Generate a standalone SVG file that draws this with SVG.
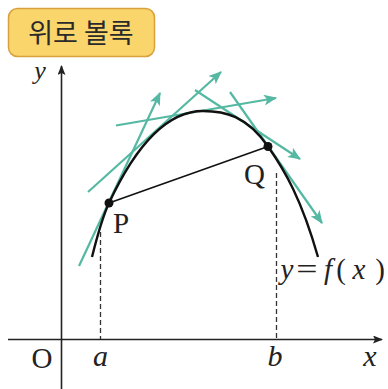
<svg xmlns="http://www.w3.org/2000/svg" width="388" height="389" viewBox="0 0 388 389">
<style>
.axis{stroke:#222;stroke-width:1.6;fill:none}
.dash{stroke:#333;stroke-width:1.3;stroke-dasharray:5,3;fill:none}
.tan{stroke:#55b8a3;stroke-width:2.2;fill:none;marker-end:url(#ta)}
.curve{stroke:#111;stroke-width:2.4;fill:none}
.chord{stroke:#111;stroke-width:1.6;fill:none}
.lbl{font-family:"Liberation Serif","Times New Roman",serif;fill:#222}
.it{font-style:italic}
</style>
<defs>
<marker id="ta" viewBox="0 0 12 10" markerUnits="userSpaceOnUse" markerWidth="14" markerHeight="11" refX="11" refY="5" orient="auto">
<path d="M0,0 L12,5 L0,10 L3,5 z" fill="#55b8a3"/>
</marker>
<marker id="ax" viewBox="0 0 10 8" markerUnits="userSpaceOnUse" markerWidth="10" markerHeight="8" refX="9" refY="4" orient="auto">
<path d="M0,0 L10,4 L0,8 L2,4 z" fill="#222"/>
</marker>
</defs>
<g id="title">
<rect x="8.5" y="8.5" width="146" height="48" rx="9" fill="#f9d56c" stroke="#d9a13c" stroke-width="1.5"/>
<text x="81" y="43" text-anchor="middle" font-family="'Noto Sans CJK KR','Noto Sans',sans-serif" font-size="27" fill="#2a2a2a">위로 볼록</text>
</g>
<g id="axes">
<line class="axis" x1="61.5" y1="389" x2="61.5" y2="66" marker-end="url(#ax)"/>
<line class="axis" x1="8" y1="339.5" x2="382" y2="339.5" marker-end="url(#ax)"/>
<line class="dash" x1="100.5" y1="232" x2="100.5" y2="339"/>
<line class="dash" x1="276.5" y1="173" x2="276.5" y2="339"/>
</g>
<g id="connectors">
<line class="tan" x1="79" y1="266" x2="160" y2="93"/>
<line class="tan" x1="88" y1="192" x2="221" y2="72"/>
<line class="tan" x1="116" y1="125.5" x2="276" y2="98"/>
<line class="tan" x1="195" y1="90" x2="300" y2="159"/>
<line class="tan" x1="230" y1="92" x2="322" y2="223"/>
</g>
<g id="graph">
<path class="curve" d="M92,257 C97.67,234.33 103.33,215.13 109,203 C140.33,135.95 171.67,111 203,111 C224.67,111 246.33,115.73 268,146.5 C284.67,170.17 301.33,198.67 318,257"/>
<line class="chord" x1="109" y1="203" x2="268" y2="146.5"/>
</g>
<g id="P"><circle cx="109" cy="203" r="4.5" fill="#111"/><text class="lbl" x="113" y="233" font-size="29">P</text></g>
<g id="Q"><circle cx="268" cy="146.5" r="4.5" fill="#111"/><text class="lbl" x="244" y="184" font-size="29">Q</text></g>
<g id="labels">
<text class="lbl it" x="40" y="79" font-size="26" text-anchor="middle">y</text>
<text class="lbl" x="42" y="368" font-size="29" text-anchor="middle">O</text>
<text class="lbl it" x="100.5" y="366" font-size="30" text-anchor="middle">a</text>
<text class="lbl it" x="275" y="366" font-size="30" text-anchor="middle">b</text>
<text class="lbl it" x="370" y="366" font-size="30" text-anchor="middle">x</text>
<text class="lbl it" x="287" y="279" font-size="29" text-anchor="middle">y</text>
<text class="lbl" x="307" y="279" font-size="29" text-anchor="middle" transform="translate(307 0) scale(1.3 1) translate(-307 0)">=</text>
<text class="lbl it" x="328" y="279" font-size="29" text-anchor="middle">f</text>
<text class="lbl" x="341" y="279" font-size="29" text-anchor="middle">(</text>
<text class="lbl it" x="359" y="279" font-size="29" text-anchor="middle">x</text>
<text class="lbl" x="380" y="279" font-size="29" text-anchor="middle">)</text>
</g>
</svg>
